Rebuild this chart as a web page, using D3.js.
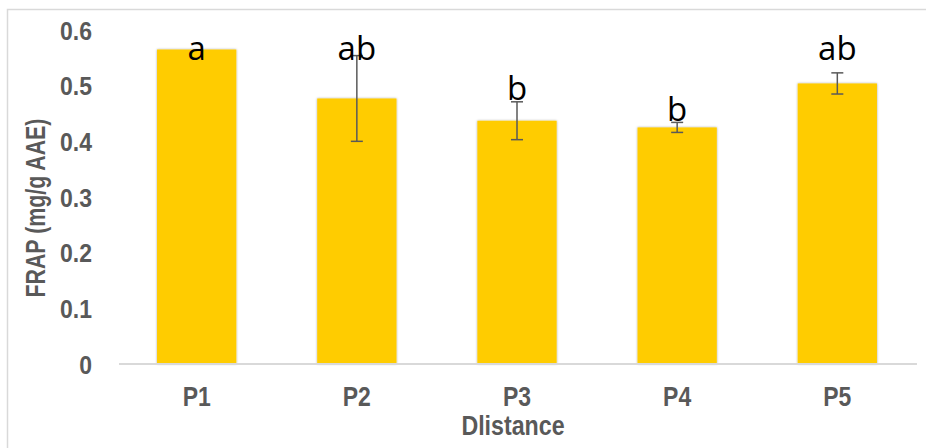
<!DOCTYPE html>
<html>
<head>
<meta charset="utf-8">
<script src="https://cdn.jsdelivr.net/npm/d3@7"></script>
<style>
  body { margin: 0; background: #fff; }
  .axis-text { font-family: "Liberation Sans", Arial, sans-serif; font-weight: bold; fill: #595959; }
</style>
</head>
<body>
<div id="chart"></div>
<script>
var sites = ["P1", "P2", "P3", "P4", "P5"];
var frap = [0.565, 0.477, 0.437, 0.425, 0.504];
var errs = [0, 0.077, 0.034, 0.009, 0.019];
var letters = ["a", "ab", "b", "b", "ab"];
// where the letter baselines sit, in data units
var letterAt = [0.547, 0.547, 0.475, 0.436, 0.547];
var yTicks = [0, 0.1, 0.2, 0.3, 0.4, 0.5, 0.6];

var W = 926, H = 448;
var margin = {top: 30, right: 9, bottom: 84, left: 117};
var width = W - margin.left - margin.right,
    height = H - margin.top - margin.bottom;

var svg = d3.select("#chart").append("svg")
    .attr("width", W)
    .attr("height", H);

var defs = svg.append("defs");
var filt = defs.append("filter").attr("id", "shadow")
    .attr("x", "-10%").attr("y", "-10%").attr("width", "120%").attr("height", "120%");
filt.append("feDropShadow")
    .attr("dx", 0).attr("dy", 0).attr("stdDeviation", 1.3)
    .attr("flood-color", "#000").attr("flood-opacity", 0.35);

// chart border (runs off the right and bottom of the picture)
svg.append("path")
    .attr("d", "M7.5," + H + "V9.5H" + W)
    .attr("fill", "none")
    .attr("stroke", "#d9d9d9")
    .attr("stroke-width", 1.5);

var g = svg.append("g")
    .attr("transform", "translate(" + margin.left + "," + margin.top + ")");

var x = d3.scaleBand()
    .domain(sites)
    .range([0, width])
    .paddingInner(0.505)
    .paddingOuter(0.25);

var y = d3.scaleLinear()
    .domain([0, 0.6])
    .range([height, 0]);

// bars
g.selectAll(".bar")
    .data(frap)
    .enter().append("rect")
    .attr("class", "bar")
    .attr("x", function(d, i) { return x(sites[i]); })
    .attr("y", function(d) { return y(d); })
    .attr("width", x.bandwidth())
    .attr("height", function(d) { return y(0) - y(d); })
    .attr("fill", "#FFCC00")
    .attr("filter", "url(#shadow)");

// baseline
g.append("line")
    .attr("x1", 2).attr("x2", x(sites[4]) + x.bandwidth() + 40)
    .attr("y1", y(0)).attr("y2", y(0))
    .attr("stroke", "#d9d9d9")
    .attr("stroke-width", 2);

// error bars
g.selectAll(".err")
    .data(frap)
    .enter().append("g")
    .attr("class", "err")
    .attr("stroke", "#595959")
    .attr("stroke-width", 1.5)
    .attr("transform", function(d, i) { return "translate(" + (x(sites[i]) + x.bandwidth() / 2) + ",0)"; })
    .each(function(d, i) {
        if (errs[i] <= 0) return;
        var e = d3.select(this);
        e.append("line")
            .attr("y1", y(d - errs[i]))
            .attr("y2", y(d + errs[i]));
        [d - errs[i], d + errs[i]].forEach(function(v) {
            e.append("line")
                .attr("x1", -6).attr("x2", 6)
                .attr("y1", y(v)).attr("y2", y(v));
        });
    });

// significance letters
g.selectAll(".letter")
    .data(letters)
    .enter().append("text")
    .attr("class", "letter")
    .attr("x", function(d, i) { return x(sites[i]) + x.bandwidth() / 2; })
    .attr("y", function(d, i) { return y(letterAt[i]); })
    .attr("text-anchor", "middle")
    .style("font-family", "'Open Sans', 'Noto Sans', sans-serif")
    .style("font-size", "33px")
    .attr("fill", "#000")
    .text(function(d) { return d; });

// y axis labels (squeezed sideways like the narrow font in the original)
var yAxis = d3.axisLeft(y)
    .tickValues(yTicks)
    .tickSize(0)
    .tickPadding(25)
    .tickFormat(function(d) { return d === 0 ? "0" : d3.format(".1f")(d); });

var ya = g.append("g").call(yAxis);
ya.select(".domain").remove();
ya.selectAll("text")
    .attr("class", "axis-text")
    .attr("x", -25 / 0.92)
    .attr("transform", "scale(0.92,1)")
    .attr("dy", "0.36em")
    .style("font-size", "25px");

// x axis labels
var xAxis = d3.axisBottom(x).tickSize(0).tickPadding(22);
var xa = g.append("g")
    .attr("transform", "translate(0," + height + ")")
    .call(xAxis);
xa.select(".domain").remove();
xa.selectAll("text")
    .attr("class", "axis-text")
    .attr("transform", "scale(0.82,1)")
    .attr("dy", "0.71em")
    .style("font-size", "28px");

// axis titles
svg.append("text")
    .attr("class", "axis-text")
    .attr("transform", "translate(" + (margin.left + width / 2 - 4) + ",435) scale(0.86,1)")
    .attr("text-anchor", "middle")
    .style("font-size", "27px")
    .text("Dlistance");

svg.append("text")
    .attr("class", "axis-text")
    .attr("transform", "translate(45,208) rotate(-90) scale(0.79,1)")
    .attr("text-anchor", "middle")
    .style("font-size", "27px")
    .text("FRAP (mg/g AAE)");
</script>
</body>
</html>
